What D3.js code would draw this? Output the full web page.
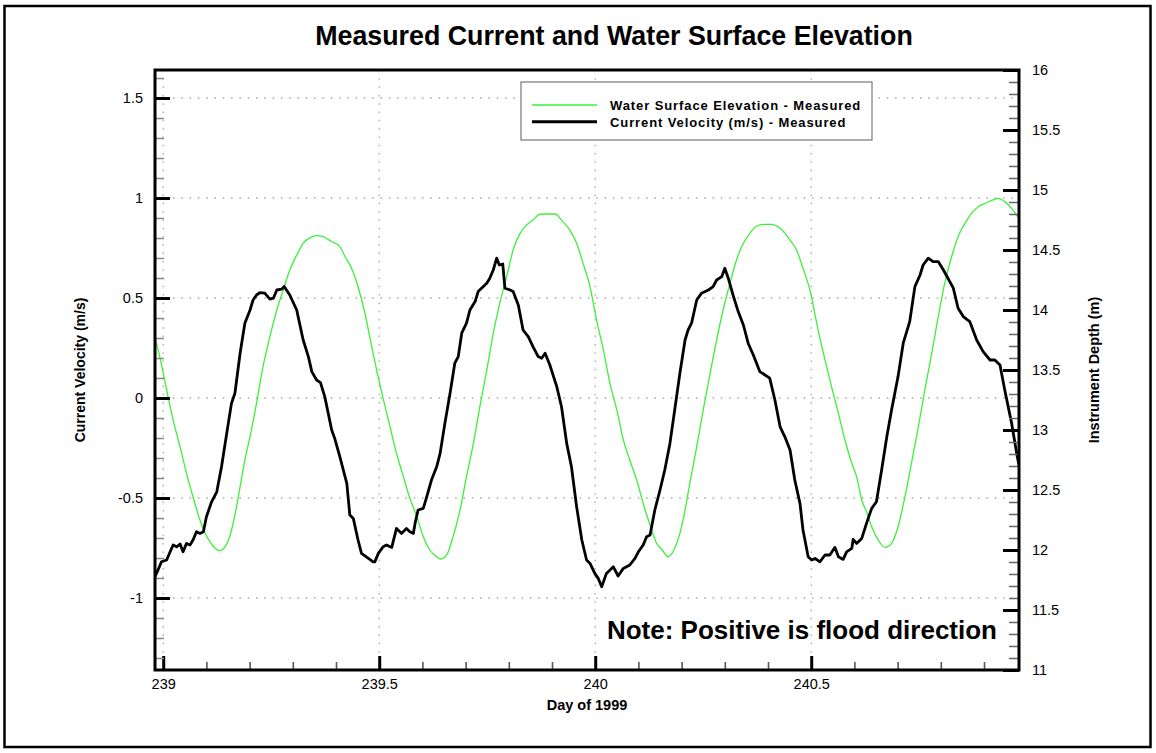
<!DOCTYPE html>
<html>
<head>
<meta charset="utf-8">
<script src="https://cdn.jsdelivr.net/npm/d3@7"></script>
<style>
  body { margin: 0; background: #fff; }
  text { font-family: "Liberation Sans", Arial, sans-serif; fill: #000; }
</style>
</head>
<body>
<svg id="chart" width="1156" height="753"></svg>
<script>
// current velocity (m/s), left axis
const velDays = [238.981, 238.988, 238.996, 239.008, 239.016, 239.023, 239.031, 239.039, 239.046, 239.054,
    239.062, 239.069, 239.077, 239.085, 239.093, 239.100, 239.112, 239.124, 239.135, 239.147,
    239.158, 239.166, 239.178, 239.189, 239.201, 239.208, 239.216, 239.224, 239.235, 239.247,
    239.255, 239.263, 239.274, 239.280, 239.293, 239.309, 239.324, 239.336, 239.344, 239.355,
    239.364, 239.374, 239.390, 239.397, 239.409, 239.425, 239.432, 239.440, 239.451, 239.459,
    239.475, 239.486, 239.490, 239.498, 239.509, 239.517, 239.529, 239.540, 239.552, 239.563,
    239.571, 239.579, 239.583, 239.590, 239.602, 239.610, 239.621, 239.633, 239.641, 239.652,
    239.664, 239.675, 239.683, 239.691, 239.702, 239.710, 239.722, 239.729, 239.741, 239.749,
    239.756, 239.764, 239.772, 239.778, 239.786, 239.791, 239.803, 239.810, 239.822, 239.833,
    239.845, 239.856, 239.868, 239.876, 239.884, 239.895, 239.911, 239.922, 239.934, 239.945,
    239.957, 239.969, 239.980, 239.988, 239.999, 240.007, 240.015, 240.026, 240.042, 240.053,
    240.065, 240.080, 240.092, 240.100, 240.111, 240.119, 240.127, 240.138, 240.150, 240.161,
    240.173, 240.184, 240.196, 240.208, 240.215, 240.223, 240.235, 240.246, 240.262, 240.273,
    240.281, 240.293, 240.300, 240.308, 240.319, 240.331, 240.343, 240.354, 240.366, 240.381,
    240.393, 240.404, 240.416, 240.428, 240.439, 240.451, 240.462, 240.474, 240.481, 240.493,
    240.501, 240.509, 240.520, 240.532, 240.543, 240.555, 240.563, 240.574, 240.582, 240.594,
    240.597, 240.605, 240.617, 240.628, 240.640, 240.651, 240.663, 240.675, 240.686, 240.701,
    240.713, 240.728, 240.740, 240.752, 240.759, 240.771, 240.782, 240.794, 240.806, 240.829,
    240.840, 240.852, 240.867, 240.883, 240.898, 240.914, 240.925, 240.937, 240.948, 240.964,
    240.977, 240.981];
const velocity = [-0.894, -0.86, -0.819, -0.81, -0.769, -0.735, -0.744, -0.73, -0.769, -0.727,
    -0.735, -0.71, -0.669, -0.677, -0.669, -0.594, -0.519, -0.469, -0.344, -0.177,
    -0.027, 0.024, 0.224, 0.374, 0.44, 0.49, 0.515, 0.527, 0.524, 0.494,
    0.499, 0.54, 0.544, 0.557, 0.515, 0.44, 0.29, 0.207, 0.132, 0.09,
    0.077, 0.007, -0.16, -0.202, -0.294, -0.427, -0.585, -0.602, -0.71, -0.777,
    -0.802, -0.819, -0.819, -0.777, -0.744, -0.735, -0.747, -0.652, -0.677, -0.652,
    -0.669, -0.677, -0.627, -0.56, -0.552, -0.494, -0.41, -0.344, -0.277, -0.127,
    0.024, 0.174, 0.207, 0.324, 0.374, 0.44, 0.482, 0.532, 0.557, 0.574,
    0.599, 0.64, 0.699, 0.665, 0.67, 0.549, 0.54, 0.532, 0.465, 0.34,
    0.307, 0.257, 0.207, 0.199, 0.224, 0.165, 0.057, -0.044, -0.227, -0.344,
    -0.544, -0.71, -0.81, -0.827, -0.877, -0.902, -0.944, -0.877, -0.844, -0.89,
    -0.852, -0.835, -0.802, -0.769, -0.735, -0.694, -0.685, -0.56, -0.46, -0.36,
    -0.227, -0.06, 0.124, 0.29, 0.34, 0.374, 0.49, 0.524, 0.54, 0.557,
    0.59, 0.607, 0.649, 0.599, 0.515, 0.432, 0.365, 0.274, 0.215, 0.132,
    0.115, 0.099, -0.01, -0.144, -0.194, -0.26, -0.41, -0.527, -0.66, -0.794,
    -0.81, -0.802, -0.819, -0.785, -0.785, -0.747, -0.794, -0.807, -0.769, -0.752,
    -0.707, -0.727, -0.702, -0.627, -0.552, -0.519, -0.36, -0.194, -0.06, 0.107,
    0.274, 0.382, 0.557, 0.615, 0.665, 0.699, 0.682, 0.682, 0.64, 0.549,
    0.449, 0.407, 0.382, 0.29, 0.232, 0.19, 0.19, 0.165, 0.04, -0.127,
    -0.294, -0.335];

// water surface elevation / instrument depth (m), right axis
const wseDays = [238.981, 238.992, 239.008, 239.023, 239.039, 239.054, 239.069, 239.085, 239.097, 239.108,
    239.120, 239.131, 239.143, 239.154, 239.166, 239.178, 239.189, 239.201, 239.216, 239.231,
    239.247, 239.263, 239.278, 239.293, 239.309, 239.324, 239.340, 239.355, 239.370, 239.390,
    239.409, 239.421, 239.436, 239.451, 239.467, 239.478, 239.494, 239.509, 239.525, 239.540,
    239.556, 239.571, 239.587, 239.602, 239.617, 239.633, 239.642, 239.656, 239.671, 239.687,
    239.702, 239.718, 239.733, 239.749, 239.764, 239.779, 239.795, 239.810, 239.826, 239.841,
    239.856, 239.872, 239.887, 239.907, 239.922, 239.941, 239.957, 239.972, 239.988, 240.003,
    240.019, 240.034, 240.050, 240.065, 240.080, 240.096, 240.111, 240.127, 240.142, 240.154,
    240.169, 240.184, 240.196, 240.208, 240.219, 240.235, 240.250, 240.266, 240.281, 240.296,
    240.312, 240.327, 240.343, 240.358, 240.374, 240.389, 240.408, 240.428, 240.451, 240.466,
    240.481, 240.497, 240.516, 240.532, 240.547, 240.563, 240.578, 240.594, 240.605, 240.617,
    240.628, 240.640, 240.655, 240.671, 240.686, 240.701, 240.717, 240.732, 240.748, 240.763,
    240.779, 240.794, 240.809, 240.825, 240.840, 240.856, 240.871, 240.887, 240.906, 240.921,
    240.933, 240.948, 240.964, 240.977, 240.981];
const wse = [13.764, 13.611, 13.333, 13.083, 12.861, 12.639, 12.444, 12.25, 12.139, 12.069,
    12.014, 11.994, 12.028, 12.111, 12.292, 12.528, 12.75, 12.944, 13.222, 13.528,
    13.778, 14.0, 14.167, 14.333, 14.458, 14.556, 14.603, 14.619, 14.611, 14.569,
    14.528, 14.444, 14.348, 14.194, 13.973, 13.778, 13.5, 13.264, 13.028, 12.806,
    12.611, 12.431, 12.278, 12.111, 12.0, 11.944, 11.925, 11.958, 12.111, 12.333,
    12.611, 12.889, 13.194, 13.5, 13.806, 14.056, 14.278, 14.5, 14.639, 14.708,
    14.75, 14.798, 14.8, 14.8, 14.75, 14.667, 14.556, 14.389, 14.194, 13.917,
    13.667, 13.389, 13.167, 12.917, 12.75, 12.583, 12.389, 12.208, 12.056, 12.006,
    11.944, 12.014, 12.139, 12.333, 12.556, 12.861, 13.167, 13.472, 13.75, 14.0,
    14.222, 14.417, 14.556, 14.639, 14.7, 14.714, 14.714, 14.681, 14.583, 14.5,
    14.348, 14.167, 13.833, 13.583, 13.361, 13.139, 12.917, 12.722, 12.611, 12.417,
    12.319, 12.194, 12.083, 12.022, 12.056, 12.194, 12.444, 12.722, 13.028, 13.333,
    13.639, 13.944, 14.222, 14.444, 14.611, 14.722, 14.806, 14.861, 14.894, 14.917,
    14.931, 14.903, 14.847, 14.783, 14.767];

const xTicks = [239, 239.5, 240, 240.5];
const leftTicks = [-1, -0.5, 0, 0.5, 1, 1.5];
const rightTicks = [11, 11.5, 12, 12.5, 13, 13.5, 14, 14.5, 15, 15.5, 16];

const titleText = "Measured Current and Water Surface Elevation";
const xLabel = "Day of 1999";
const leftLabel = "Current Velocity (m/s)";
const rightLabel = "Instrument Depth (m)";
const legendNames = ["Water Surface Elevation - Measured", "Current Velocity (m/s) - Measured"];
const noteText = "Note: Positive is flood direction";

const svg = d3.select("#chart");
const plot = {left: 155, right: 1019, top: 70, bottom: 670};
const green = "#3cf03c";
const plain = (d) => String(d); // keep ASCII hyphen for negatives

const x = d3.scaleLinear().domain([238.981, 240.981]).range([plot.left, plot.right]);
const yL = d3.scaleLinear().domain([-1.36, 1.64]).range([plot.bottom, plot.top]);
const yR = d3.scaleLinear().domain([11, 16]).range([plot.bottom, plot.top]);

// minor tick values every 0.1
const tenths = (a, b) => d3.range(Math.round(a * 10), Math.round(b * 10) + 1).map((i) => i / 10);
const xMinor = tenths(239, 240.9).filter((v) => !xTicks.includes(v));
const yLMinor = tenths(-1.3, 1.6).filter((v) => !leftTicks.includes(v));
const yRMinor = tenths(11, 16).filter((v) => !rightTicks.includes(v));

// outer frame
svg.append("rect")
    .attr("x", 4.5).attr("y", 6)
    .attr("width", 1146).attr("height", 741)
    .attr("fill", "none").attr("stroke", "#000").attr("stroke-width", 2.5);

// dotted grid
const grid = svg.append("g")
    .attr("stroke", "#a8a8a8")
    .attr("stroke-width", 1.3)
    .attr("stroke-dasharray", "1.5,6.8");
grid.selectAll(".gy").data(leftTicks).join("line")
    .attr("x1", plot.left + 18).attr("x2", plot.right)
    .attr("y1", (d) => yL(d)).attr("y2", (d) => yL(d));
grid.selectAll(".gx").data(xTicks).join("line")
    .attr("y1", plot.top).attr("y2", plot.bottom - 16)
    .attr("x1", (d) => x(d)).attr("x2", (d) => x(d));

// data lines
svg.append("clipPath").attr("id", "clip")
    .append("rect")
    .attr("x", plot.left).attr("y", plot.top)
    .attr("width", plot.right - plot.left).attr("height", plot.bottom - plot.top);

const wseLine = d3.line().x((d, i) => x(wseDays[i])).y((d) => yR(d)).curve(d3.curveMonotoneX);
const velLine = d3.line().x((d, i) => x(velDays[i])).y((d) => yL(d));

svg.append("path")
    .datum(wse)
    .attr("clip-path", "url(#clip)")
    .attr("d", wseLine)
    .attr("fill", "none")
    .attr("stroke", green)
    .attr("stroke-width", 1.3);

svg.append("path")
    .datum(velocity)
    .attr("clip-path", "url(#clip)")
    .attr("d", velLine)
    .attr("fill", "none")
    .attr("stroke", "#000")
    .attr("stroke-width", 2.8)
    .attr("stroke-linejoin", "round");

// axes (ticks point into the plot)
const styleAxis = (g, width, color) => {
    g.select(".domain").remove();
    g.selectAll(".tick line").attr("stroke", color).attr("stroke-width", width);
    g.selectAll(".tick text")
        .style("font-family", '"Liberation Sans", Arial, sans-serif')
        .style("font-size", "14.5px")
        .attr("fill", "#000");
};

svg.append("g")
    .attr("transform", `translate(0,${plot.bottom})`)
    .call(d3.axisBottom(x).tickValues(xTicks).tickSizeInner(-14).tickSizeOuter(0)
        .tickPadding(9).tickFormat(plain))
    .call((g) => styleAxis(g, 3, "#000"));
svg.append("g")
    .attr("transform", `translate(0,${plot.bottom})`)
    .call(d3.axisBottom(x).tickValues(xMinor).tickSizeInner(-8).tickSizeOuter(0).tickFormat(""))
    .call((g) => styleAxis(g, 1.6, "#555"));

svg.append("g")
    .attr("transform", `translate(${plot.left},0)`)
    .call(d3.axisLeft(yL).tickValues(leftTicks).tickSizeInner(-15).tickSizeOuter(0)
        .tickPadding(12).tickFormat(plain))
    .call((g) => styleAxis(g, 3, "#000"));
svg.append("g")
    .attr("transform", `translate(${plot.left},0)`)
    .call(d3.axisLeft(yL).tickValues(yLMinor).tickSizeInner(-9).tickSizeOuter(0).tickFormat(""))
    .call((g) => styleAxis(g, 1.5, "#888"));

svg.append("g")
    .attr("transform", `translate(${plot.right},0)`)
    .call(d3.axisRight(yR).tickValues(rightTicks).tickSizeInner(-16).tickSizeOuter(0)
        .tickPadding(13).tickFormat(plain))
    .call((g) => styleAxis(g, 3, "#000"));
svg.append("g")
    .attr("transform", `translate(${plot.right},0)`)
    .call(d3.axisRight(yR).tickValues(yRMinor).tickSizeInner(-10).tickSizeOuter(0).tickFormat(""))
    .call((g) => styleAxis(g, 1.5, "#666"));

// plot frame
svg.append("rect")
    .attr("x", plot.left).attr("y", plot.top)
    .attr("width", plot.right - plot.left).attr("height", plot.bottom - plot.top)
    .attr("fill", "none").attr("stroke", "#000").attr("stroke-width", 3);

// titles
svg.append("text")
    .attr("x", 614).attr("y", 45)
    .attr("text-anchor", "middle")
    .style("font-size", "26.8px").style("font-weight", "bold")
    .text(titleText);

svg.append("text")
    .attr("x", (plot.left + plot.right) / 2).attr("y", 710)
    .attr("text-anchor", "middle")
    .style("font-size", "14.5px").style("font-weight", "bold")
    .text(xLabel);

svg.append("text")
    .attr("transform", `translate(85,${(plot.top + plot.bottom) / 2}) rotate(-90)`)
    .attr("text-anchor", "middle")
    .style("font-size", "14px").style("font-weight", "bold")
    .text(leftLabel);

svg.append("text")
    .attr("transform", `translate(1099,${(plot.top + plot.bottom) / 2}) rotate(-90)`)
    .attr("text-anchor", "middle")
    .style("font-size", "14.5px").style("font-weight", "bold")
    .text(rightLabel);

// legend
const legend = svg.append("g").attr("transform", "translate(521,82)");
legend.append("rect")
    .attr("width", 351).attr("height", 58)
    .attr("fill", "#fff").attr("stroke", "#777").attr("stroke-width", 1.2);
const legendRows = legend.selectAll(".row")
    .data(legendNames)
    .join("g")
    .attr("transform", (d, i) => `translate(0,${23 + i * 16.7})`);
legendRows.append("line")
    .attr("x1", 11).attr("x2", 76)
    .attr("stroke", (d, i) => i === 0 ? green : "#000")
    .attr("stroke-width", (d, i) => i === 0 ? 1.5 : 3);
legendRows.append("text")
    .attr("x", 89).attr("y", 5)
    .style("font-size", "13px").style("font-weight", "bold")
    .style("letter-spacing", "0.9px")
    .text((d) => d);

// note
svg.append("text")
    .attr("x", 997).attr("y", 639)
    .attr("text-anchor", "end")
    .style("font-size", "26px").style("font-weight", "bold")
    .text(noteText);
</script>
</body>
</html>
